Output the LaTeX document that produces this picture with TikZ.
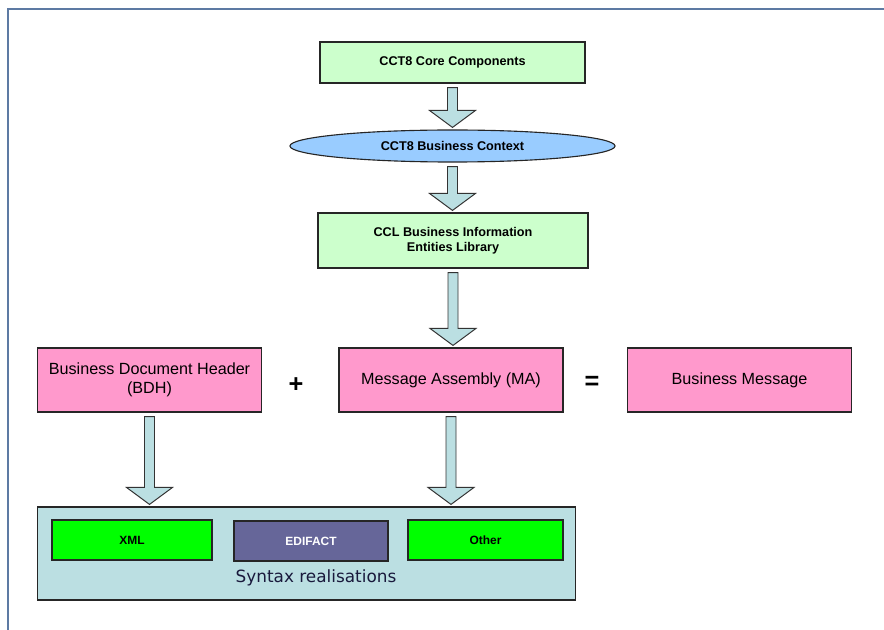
\documentclass[tikz,border=0pt]{standalone}
\usepackage{fontspec}
\setmainfont{Liberation Sans}
\newfontfamily\dejavu{DejaVu Sans}
\usetikzlibrary{calc,shapes.geometric}
\definecolor{lightgreen}{RGB}{204,255,204}
\definecolor{skyblue}{RGB}{153,204,255}
\definecolor{pinkbox}{RGB}{255,153,204}
\definecolor{tealbox}{RGB}{187,223,226}
\definecolor{arrowfill}{RGB}{187,223,226}
\definecolor{brightgreen}{RGB}{0,255,0}
\definecolor{slate}{RGB}{102,102,153}
\definecolor{framecol}{RGB}{93,122,163}
\definecolor{navytext}{RGB}{25,25,60}
\tikzset{
  box/.style={draw=black!85, line width=0.8pt, inner sep=0pt, align=center},
  topbox/.style={box, fill=lightgreen, font=\fontsize{9}{10.5}\selectfont\bfseries},
  rowbox/.style={box, fill=pinkbox, minimum width=5.6cm, minimum height=1.6cm, font=\fontsize{11.5}{13.5}\selectfont},
  synbox/.style={box, minimum width=3.9cm, minimum height=1cm, font=\fontsize{8.5}{10}\selectfont\bfseries},
  blockarr/.style={draw=black!80, line width=0.7pt, fill=arrowfill, line join=miter},
  sign/.style={font=\fontsize{18}{18}\selectfont\bfseries}
}
\newcommand\blockarrow[2]{%
  \path #1 coordinate (ba-s) #2 coordinate (ba-t) (ba-s |- ba-t) coordinate (ba-e);
  \draw[blockarr] ($(ba-s)+(-5,4)$) -- ($(ba-e)+(-5,-19)$) -- ($(ba-e)+(-23,-19)$) -- ($(ba-e)+(0,-2)$)
    -- ($(ba-e)+(23,-19)$) -- ($(ba-e)+(5,-19)$) -- ($(ba-s)+(5,4)$) -- cycle;}
\begin{document}
\begin{tikzpicture}[x=0.025cm,y=-0.025cm]
  \useasboundingbox (0,0) rectangle (884,630);
  \draw[framecol, line width=1.6pt] (8,630) -- (8,9) -- (884,9);

  \node[topbox, minimum width=6.625cm, minimum height=1.025cm] (core) at (452.5,62.5) {CCT8 Core Components};
  \node[box, ellipse, fill=skyblue, minimum width=8.125cm, minimum height=0.8cm,
        font=\fontsize{9}{10.5}\selectfont\bfseries] (context) at (452.5,146) {CCT8 Business Context};
  \node[topbox, minimum width=6.75cm, minimum height=1.375cm] (ccl) at (453,240.5)
        {CCL Business Information\\Entities Library};

  \node[rowbox] (bdh) at (149.5,380) {Business Document Header\\(BDH)};
  \node[rowbox] (ma) at (451,380) {Message Assembly (MA)};
  \node[rowbox] (msg) at (739.5,380) {Business Message};
  \node[sign] (plus) at (296,385) {+};
  \node[sign] (equals) at (592,383) {=};

  \node[box, fill=tealbox, minimum width=13.425cm, minimum height=2.325cm] (syntax) at (306.5,553.5) {};
  \node[synbox, fill=brightgreen, minimum width=4cm] (xml) at (132,540) {XML};
  \node[synbox, fill=slate, text=white, minimum width=3.85cm] (edifact) at (311,541) {EDIFACT};
  \node[synbox, fill=brightgreen, minimum width=3.875cm] (other) at (485.5,540) {Other};
  \node[font=\dejavu\fontsize{12}{14}\selectfont, text=navytext] (synlabel) at (316,578) {Syntax realisations};

  \blockarrow{(core.south)}{(context.north)}
  \blockarrow{(context.south)}{(ccl.north)}
  \blockarrow{(ccl.south)}{(ma.north)}
  \blockarrow{(bdh.south)}{(syntax.north)}
  \blockarrow{(ma.south)}{(syntax.north)}
\end{tikzpicture}
\end{document}
